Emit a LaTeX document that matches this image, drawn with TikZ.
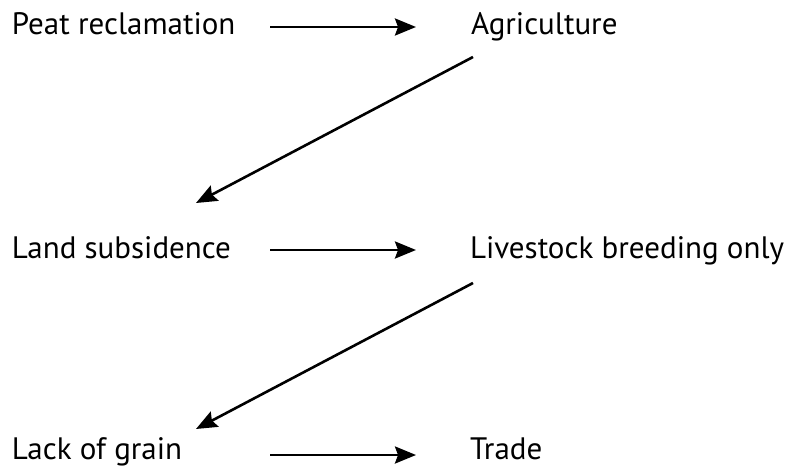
\documentclass[tikz,border=0pt]{standalone}
\usepackage{fontspec}
\setmainfont{PT Sans}
\usetikzlibrary{arrows.meta}
\begin{document}
\begin{tikzpicture}[x=1pt,y=-1pt,
  label/.style={anchor=base west,inner sep=0pt,outer sep=0pt,font=\fontsize{31}{36}\selectfont},
  flow/.style={line width=2.6pt,-{Stealth[length=21pt,width=17pt,inset=3pt]}}]
\useasboundingbox (0,0) rectangle (789,468);
\node[label] (peat) at (12,35) {Peat reclamation};
\node[label] (agri) at (471,35) {Agriculture};
\node[label] (land) at (12,258) {Land subsidence};
\node[label] (live) at (470,258) {Livestock breeding only};
\node[label] (lack) at (12,459) {Lack of grain};
\node[label] (trade) at (470,459) {Trade};
\coordinate (a1) at (270,27); \coordinate (b1) at (416,27);
\coordinate (a2) at (473,57); \coordinate (b2) at (196,203);
\coordinate (a3) at (270,250); \coordinate (b3) at (416,250);
\coordinate (a4) at (473,283); \coordinate (b4) at (196,429);
\coordinate (a5) at (270,455); \coordinate (b5) at (416,455);
\draw[flow] (a1) -- (b1);
\draw[flow] (a2) -- (b2);
\draw[flow] (a3) -- (b3);
\draw[flow] (a4) -- (b4);
\draw[flow] (a5) -- (b5);
\end{tikzpicture}
\end{document}
